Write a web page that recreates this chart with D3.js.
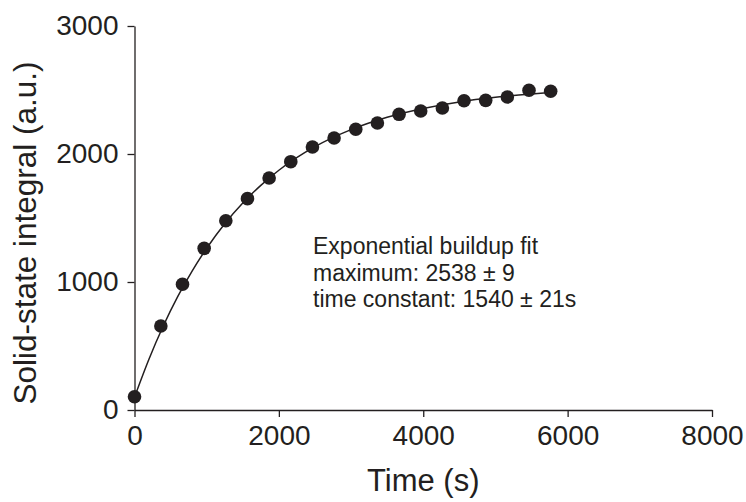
<!DOCTYPE html>
<html>
<head>
<meta charset="utf-8">
<script src="https://cdn.jsdelivr.net/npm/d3@7"></script>
<style>
  body { margin: 0; background: #fff; }
  svg { display: block; font-family: "Liberation Sans", Arial, Helvetica, sans-serif; }
</style>
</head>
<body>
<svg id="chart" width="746" height="502"></svg>
<script>
// measured points (time in s, integral in a.u.)
const timeS = [0, 365, 665, 965, 1265, 1565, 1865, 2165, 2465, 2765, 3065, 3365, 3665, 3965, 4265, 4565, 4865, 5165, 5465, 5765];
const integral = [104, 656, 982, 1263, 1479, 1651, 1812, 1940, 2055, 2125, 2193, 2242, 2310, 2336, 2359, 2416, 2419, 2445, 2498, 2490];

// fitted buildup curve
const fitTime = [0, 200, 400, 600, 800, 1000, 1250, 1500, 1750, 2000, 2500, 3000, 3500, 4000, 4500, 5000, 5500, 5800];
const fitValue = [100, 397, 658, 887, 1087, 1264, 1455, 1617, 1755, 1873, 2057, 2190, 2287, 2356, 2407, 2443, 2469, 2482];

const xTicks = [0, 2000, 4000, 6000, 8000];
const yTicks = [0, 1000, 2000, 3000];
const fitText = ['Exponential buildup fit', 'maximum: 2538 \u00b1 9', 'time constant: 1540 \u00b1 21s'];

const ink = '#231f20';
const svg = d3.select('#chart');

const x = d3.scaleLinear().domain([0, 8000]).range([134.5, 712]);
const y = d3.scaleLinear().domain([0, 3000]).range([410, 26]);

// axes
const xAxis = svg.append('g')
    .attr('transform', `translate(0,${y(0)})`)
    .call(d3.axisBottom(x).tickValues(xTicks).tickSize(7).tickPadding(8).tickSizeOuter(0).tickFormat(d3.format('d')));
const yAxis = svg.append('g')
    .attr('transform', `translate(${x(0)},0)`)
    .call(d3.axisLeft(y).tickValues(yTicks).tickSize(7).tickPadding(9).tickSizeOuter(0).tickFormat(d3.format('d')));

[xAxis, yAxis].forEach(g => {
  g.select('.domain').attr('stroke', ink).attr('stroke-width', 1.3);
  g.selectAll('.tick line').attr('stroke', ink).attr('stroke-width', 1.3);
  g.selectAll('.tick text')
    .attr('fill', ink)
    .style('font-family', '"Liberation Sans", Arial, sans-serif')
    .style('font-size', '28px');
});

// fit line
const line = d3.line()
    .x((d, i) => x(fitTime[i]))
    .y(d => y(d))
    .curve(d3.curveMonotoneX);

svg.append('path')
    .datum(fitValue)
    .attr('d', line)
    .attr('fill', 'none')
    .attr('stroke', ink)
    .attr('stroke-width', 1.5);

// data points
svg.append('g').selectAll('circle')
    .data(integral)
    .join('circle')
    .attr('cx', (d, i) => x(timeS[i]))
    .attr('cy', d => y(d))
    .attr('r', 6.8)
    .attr('fill', ink);

// annotation
svg.append('text')
    .attr('x', 313)
    .attr('y', 254)
    .attr('fill', ink)
    .style('font-size', '23px')
    .selectAll('tspan')
    .data(fitText)
    .join('tspan')
    .attr('x', 313)
    .attr('dy', (d, i) => i ? 26.5 : 0)
    .text(d => d);

// axis titles
svg.append('text')
    .attr('x', x(4000))
    .attr('y', 491)
    .attr('text-anchor', 'middle')
    .attr('fill', ink)
    .style('font-size', '31px')
    .text('Time (s)');

svg.append('text')
    .attr('transform', 'translate(36,233) rotate(-90)')
    .attr('text-anchor', 'middle')
    .attr('fill', ink)
    .style('font-size', '31.5px')
    .text('Solid-state integral (a.u.)');
</script>
</body>
</html>
